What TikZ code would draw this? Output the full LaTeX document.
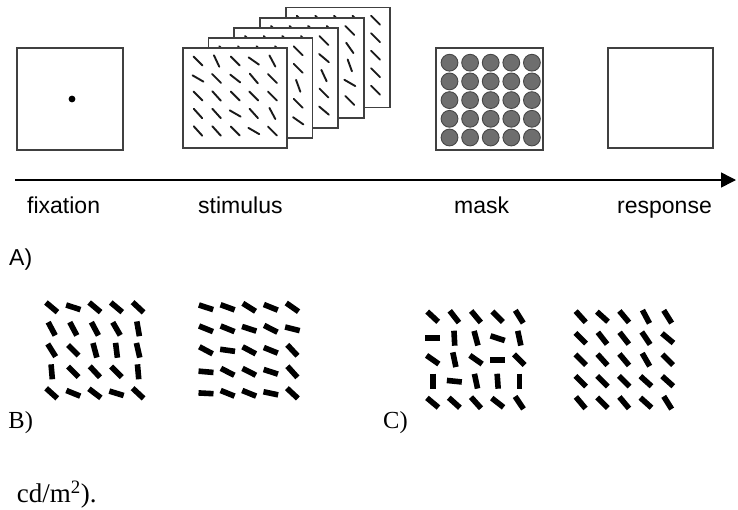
\documentclass[tikz,border=0pt]{standalone}
\usepackage{fontspec}
\setmainfont{Liberation Serif}
\newfontfamily\arialfont{Liberation Sans}
\usetikzlibrary{arrows.meta}
\newcommand\dogrid[7]{%
  \foreach \a [count=\k from 0] in {#7} {%
    \pgfmathsetmacro\gx{#1+mod(\k,5)*#3}%
    \pgfmathsetmacro\gy{#2+floor(\k/5)*#4}%
    \draw[#6] (\gx,\gy) ++(\a+180:#5) -- ++(\a:2*#5);
  }}
\begin{document}
\begin{tikzpicture}[x=1pt,y=-1pt,
  frame/.style={draw=black!75, line width=1.9pt, fill=white},
  tline/.style={draw=black!90, line width=1.9pt, line cap=round},
  tbar/.style={draw=black, line width=5.6pt},
  disk/.style={fill=black!57, draw=black!72, line width=0.9pt},
  lab/.style={font=\arialfont\fontsize{23}{27}\selectfont, inner sep=0pt, anchor=base west},
  plab/.style={font=\fontsize{24.5}{28}\selectfont, inner sep=0pt, anchor=base west}]
\useasboundingbox (0,0) rectangle (738,509);
% fixation
\draw[frame] (17,48) rectangle (123,150);
\fill (72,99) circle (3.4);
% stimulus stack, back to front
\draw[frame] (285.9,7.5) rectangle ++(104,100);
\dogrid{301.2}{20.2}{18.6}{17.5}{6.3}{tline}{45,45,45,45,45, 45,45,45,45,45, 45,45,45,45,45, 45,45,45,45,45, 45,45,45,45,45}
\draw[frame] (260.1,17.7) rectangle ++(104,100);
\dogrid{275.4}{30.4}{18.6}{17.5}{6.3}{tline}{45,45,45,45,45, 45,45,45,45,55, 45,45,45,45,70, 45,45,45,45,30, 45,45,45,45,45}
\draw[frame] (234.3,27.9) rectangle ++(104,100);
\dogrid{249.6}{40.6}{18.6}{17.5}{6.3}{tline}{45,45,45,45,45, 45,45,45,45,40, 45,45,45,45,65, 45,45,45,45,45, 45,45,45,45,40}
\draw[frame] (208.5,38.1) rectangle ++(104,100);
\dogrid{223.8}{50.8}{18.6}{17.5}{6.3}{tline}{45,45,45,45,45, 45,45,45,45,45, 45,45,45,45,70, 45,45,45,45,45, 45,45,45,45,35}
\draw[frame] (182.7,48.3) rectangle ++(104,100);
\dogrid{198}{61}{18.6}{17.5}{6.3}{tline}{45,65,45,35,62, 30,45,38,50,45, 45,48,45,45,45, 48,48,30,48,62, 48,48,45,30,45}
% mask
\draw[frame] (436,48) rectangle (543,150);
\foreach \r in {0,...,4} \foreach \c in {0,...,4}
  \draw[disk] (449.5+\c*20.6, 62.7+\r*18.7) circle (8.4);
% response
\draw[frame] (608,48) rectangle (713,148);
% time axis
\coordinate (ta) at (15,180);
\coordinate (tb) at (736,180);
\draw[line width=1.5pt, -{Triangle[length=15pt,width=15pt]}] (ta) -- (tb);
\node[lab] (lfix) at (27,213) {fixation};
\node[lab] (lstim) at (198,213) {stimulus};
\node[lab] (lmask) at (454,213) {mask};
\node[lab] (lresp) at (617,213) {response};
\node[lab] (la) at (9,265) {A)};
% patterns
\dogrid{51.7}{307.3}{21.6}{21.5}{7.5}{tbar}{40,18,40,40,43, 62,62,62,60,80, 58,45,75,83,77, 85,45,47,45,85, 42,22,37,17,43}
\dogrid{206}{307.3}{21.6}{21.5}{7.5}{tbar}{18,20,32,22,35, 22,22,18,27,14, 28,8,28,22,47, 5,27,27,18,48, 3,22,22,12,43}
\dogrid{432.7}{316.7}{21.65}{21.5}{7.5}{tbar}{43,52,50,45,58, 0,87,75,18,78, 35,78,35,0,45, 90,6,78,86,90, 40,42,48,38,56}
\dogrid{580.7}{316.7}{21.75}{21.5}{7.5}{tbar}{48,42,50,62,58, 45,52,52,56,40, 45,48,50,60,45, 45,45,45,42,42, 50,45,50,42,58}
\node[plab] (lb) at (8.3,428.5) {B)};
\node[plab] (lc) at (383,428.5) {C)};
\node[font=\fontsize{27}{30}\selectfont, inner sep=0pt, anchor=base west] (cd) at (16.7,502.5) {cd/m\textsuperscript{2}).};
\end{tikzpicture}
\end{document}
